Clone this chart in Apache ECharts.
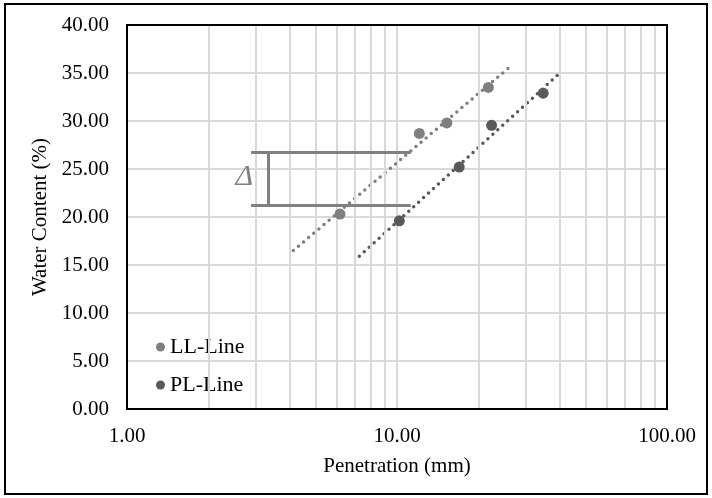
<!DOCTYPE html>
<html>
<head>
<meta charset="utf-8">
<script src="https://cdn.jsdelivr.net/npm/echarts@6/dist/echarts.min.js"></script>
<style>
  html, body { margin: 0; padding: 0; background: #fff; }
  #chart { width: 712px; height: 498px; }
</style>
</head>
<body>
<div id="chart"></div>
<script>
// values
const llPoints = [[6.15, 20.3], [12.1, 28.7], [15.3, 29.8], [21.8, 33.5]]
const plPoints = [[10.2, 19.6], [17.0, 25.2], [22.4, 29.55], [34.8, 32.9]]
const llTrend  = [[4.13, 16.5], [26.6, 35.8]]
const plTrend  = [[7.25, 15.9], [39.6, 34.85]]
// delta bracket: left x, right x, stem x, upper y, lower y
const deltaX = [2.88, 11.24, 3.34]
const deltaY = [26.7, 21.25]
const minorGrid = [2, 3, 4, 5, 6, 7, 8, 9, 20, 30, 40, 50, 60, 70, 80, 90]

const font = '"Liberation Serif", "Times New Roman", serif'
const gridColor = '#d9d9d9'

const chart = echarts.init(document.getElementById('chart'))
chart.setOption({
  animation: false,
  textStyle: { fontFamily: font },
  graphic: [{
    type: 'rect',
    shape: { x: 5, y: 4, width: 702, height: 490 },
    style: { fill: 'none', stroke: '#000', lineWidth: 2 },
    z: 100,
  }],
  grid: { left: 127, right: 45, top: 25, bottom: 89, show: true, borderColor: '#000', borderWidth: 2, backgroundColor: 'transparent', z: 10 },
  legend: {
    orient: 'vertical',
    left: 151, top: 331,
    itemGap: 16,
    icon: 'circle',
    itemWidth: 9, itemHeight: 9,
    data: ['LL-Line', 'PL-Line'],
    textStyle: { fontFamily: font, fontSize: 22, color: '#000' },
  },
  xAxis: {
    type: 'log', logBase: 10, min: 1, max: 100,
    name: 'Penetration (mm)', nameLocation: 'middle', nameGap: 47,
    nameTextStyle: { fontFamily: font, fontSize: 21, color: '#000' },
    axisLine: { lineStyle: { color: '#000', width: 2 } },
    axisTick: { show: false },
    axisLabel: { fontFamily: font, fontSize: 21, color: '#000', margin: 17, formatter: v => v.toFixed(2) },
    splitLine: { show: true, lineStyle: { color: gridColor, width: 2 } },
  },
  yAxis: {
    type: 'value', min: 0, max: 40, interval: 5,
    name: 'Water Content (%)', nameLocation: 'middle', nameGap: 76,
    nameTextStyle: { fontFamily: font, fontSize: 21, color: '#000' },
    axisLine: { show: true, lineStyle: { color: '#000', width: 2 } },
    axisTick: { show: false },
    axisLabel: { fontFamily: font, fontSize: 21, color: '#000', margin: 18, formatter: v => v.toFixed(2) },
    splitLine: { show: true, lineStyle: { color: gridColor, width: 2 } },
  },
  series: [
    {
      name: 'grid', type: 'line', data: [], silent: true,
      markLine: {
        silent: true, symbol: 'none', label: { show: false },
        lineStyle: { color: gridColor, width: 2, type: 'solid' },
        data: minorGrid.map(v => ({ xAxis: v })),
      },
    },
    {
      name: 'LL trend', type: 'line', data: llTrend, symbol: 'none',
      lineStyle: { color: '#7f7f7f', width: 3.5, type: [0, 6.7], cap: 'round' }, z: 3,
    },
    {
      name: 'PL trend', type: 'line', data: plTrend, symbol: 'none',
      lineStyle: { color: '#595959', width: 3.5, type: [0, 6.7], cap: 'round' }, z: 3,
    },
    {
      name: 'LL-Line', type: 'scatter', data: llPoints, symbolSize: 11,
      itemStyle: { color: '#7f7f7f', opacity: 1 }, z: 5,
    },
    {
      name: 'PL-Line', type: 'scatter', data: plPoints, symbolSize: 11,
      itemStyle: { color: '#595959', opacity: 1 }, z: 5,
    },
    {
      name: 'delta', type: 'line', data: [], silent: true,
      markLine: {
        silent: true, symbol: 'none', label: { show: false },
        lineStyle: { color: '#808080', width: 3, type: 'solid' },
        data: [
          [{ coord: [deltaX[0], deltaY[0]] }, { coord: [deltaX[1], deltaY[0]] }],
          [{ coord: [deltaX[0], deltaY[1]] }, { coord: [deltaX[1], deltaY[1]] }],
          [{ coord: [deltaX[2], deltaY[0]] }, { coord: [deltaX[2], deltaY[1]] }],
        ],
      },
      markPoint: {
        silent: true, symbol: 'circle', symbolSize: 0,
        label: { show: true, formatter: 'Δ', fontFamily: font, fontStyle: 'italic', fontSize: 30, color: '#808080' },
        data: [{ coord: [2.72, 24.2] }],
      },
    },
  ],
})
</script>
</body>
</html>
